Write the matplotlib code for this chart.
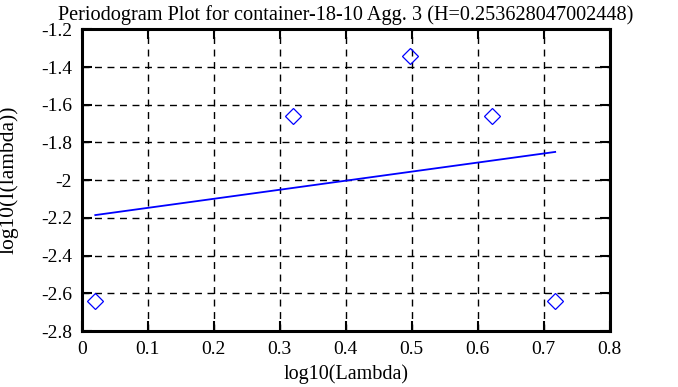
import numpy as np
import matplotlib
matplotlib.use("Agg")
import matplotlib.pyplot as plt

plt.rcParams['font.family'] = ['Liberation Serif', 'DejaVu Serif']

# periodogram points (log10 lambda, log10 I(lambda))
log_lambda = [0.0206, 0.3205, 0.4974, 0.6220, 0.7174]
log_I = [-2.639, -1.659, -1.340, -1.659, -2.640]

# fitted line end points
fit_x = [0.0206, 0.7174]
fit_y = [-2.185, -1.850]

title = "Periodogram Plot for container-18-10 Agg. 3 (H=0.253628047002448)"

fig = plt.figure(figsize=(6.78, 3.87), dpi=100)
ax = fig.add_axes([81.7 / 678, 1 - 331 / 387, 528 / 678, 301.6 / 387])

ax.plot(log_lambda, log_I, linestyle="none", marker="D", markersize=8,
        markerfacecolor="none", markeredgecolor="blue", markeredgewidth=0.9)
ax.plot(fit_x, fit_y, color="blue", linewidth=1.3)

ax.set_xlim(0, 0.8)
ax.set_ylim(-2.8, -1.2)
ax.set_xticks(np.arange(0, 0.81, 0.1))
ax.set_yticks(np.arange(-2.8, -1.19, 0.2))
ax.set_xticklabels(["0", "0.1", "0.2", "0.3", "0.4", "0.5", "0.6", "0.7", "0.8"])
ax.set_yticklabels(["-2.8", "-2.6", "-2.4", "-2.2", "-2", "-1.8", "-1.6", "-1.4", "-1.2"])

ax.grid(True, color="black", linestyle=(0, (5, 4)), linewidth=1)
ax.tick_params(direction="in", length=7, width=1.5, top=True, right=True,
               labelsize=14, pad=7, colors="black")
for s in ax.spines.values():
    s.set_linewidth(2.2)

ax.set_title(title, fontsize=14.6, pad=7)
ax.set_xlabel("log10(Lambda)", fontsize=14.5, labelpad=5)
ax.set_ylabel("log10(I(lambda))", fontsize=15.5, labelpad=2)
ax.yaxis.set_label_coords(-0.12, 0.5)

fig.savefig("out.png", dpi=100)
